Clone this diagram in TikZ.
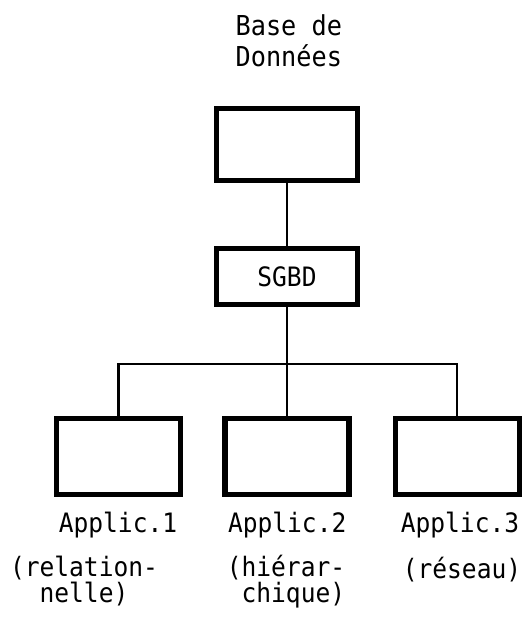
\documentclass[tikz,border=0pt]{standalone}
\usepackage{fontspec}
\setmonofont[FakeStretch=0.92]{DejaVu Sans Mono}
\usepackage{tikz}
\usetikzlibrary{
    positioning,
    calc
}
\tikzset{
  box/.style    = {draw, line width=3.6pt, minimum width=3.52cm,
                   minimum height=1.8cm, inner sep=0pt, font=\lbfont},
  appbox/.style = {draw, line width=3.6pt, minimum width=3.1cm,
                   minimum height=1.9cm, inner sep=0pt},
  lbl/.style    = {inner sep=0pt, font=\lbfont},
  lnk/.style    = {line width=1.6pt}
}
\newcommand{\lbfont}{\ttfamily\fontsize{19}{18.5}\selectfont}

\begin{document}
\begin{tikzpicture}
\useasboundingbox (0,0) rectangle (13.3,-15.55);
\node[lbl, align=center, anchor=base, font=\ttfamily\fontsize{19.5}{22}\selectfont] (titre) at (7.22,-1.65) {Base de\\Données};
\node[box] (bd) at (7.175,-3.61) {};
\node[box, minimum height=1.4cm] (sgbd) at (7.175,-6.91) {SGBD};
\node[appbox] (app1) at (2.96,-11.42) {};
\node[appbox] (app2) at (7.175,-11.42) {};
\node[appbox] (app3) at (11.43,-11.42) {};
\coordinate (bus) at (7.175,-9.1);
\draw[lnk] (bd) -- (sgbd);
\draw[lnk] (sgbd) -- (app2);
\draw[lnk] (app1.north) |- (bus) -| (app3.north);
\node[lbl, anchor=base] (nom1) at (2.95,-13.32) {Applic.1};
\node[lbl, anchor=base] (nom2) at (7.18,-13.32) {Applic.2};
\node[lbl, anchor=base] (nom3) at (11.5,-13.32) {Applic.3};
\node[lbl, anchor=base, align=center] (typ1) at (2.1,-15.07) {(relation-\\nelle)};
\node[lbl, anchor=base, align=right] (typ2) at (7.15,-15.07) {(hiérar-\\chique)};
\node[lbl, anchor=base] (typ3) at (11.55,-14.45) {(réseau)};
\end{tikzpicture}
\end{document}
